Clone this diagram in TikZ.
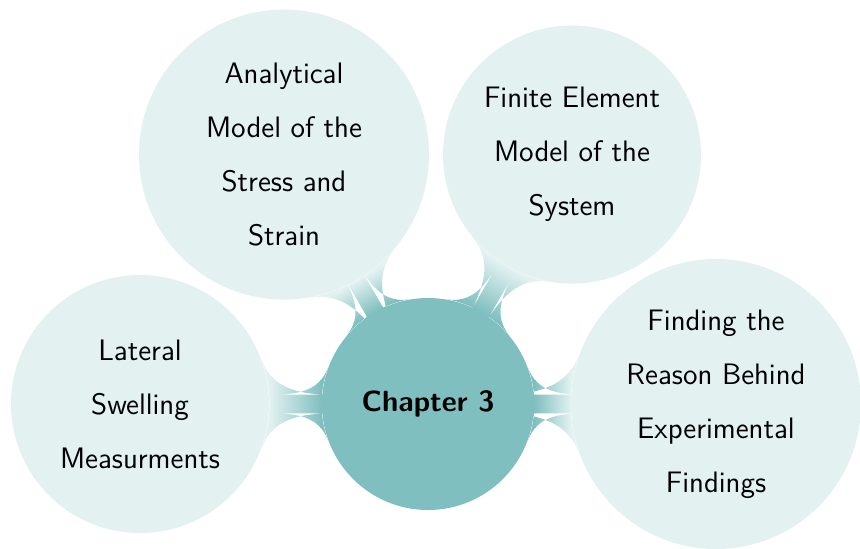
\documentclass[tikz,border=0pt]{standalone}
\usepackage{tikz}
\usetikzlibrary{mindmap}
\definecolor{chapTeal}{HTML}{80BFC0}
\definecolor{chapTealLight}{HTML}{E3F1F1}
\tikzset{
  chapter concept/.style={circle, fill=chapTeal, minimum size=106pt,
    inner sep=0pt, align=center,
    font=\sffamily\bfseries\fontsize{14.6}{17}\selectfont},
  topic concept/.style={circle, fill=chapTealLight, minimum size=129pt,
    inner sep=0pt, align=center,
    font=\sffamily\fontsize{14.8}{27}\selectfont},
  big topic/.style={topic concept, minimum size=145pt},
  topic link/.style={line width=9pt,
    circle connection bar switch color=from (chapTeal) to (chapTealLight)}
}

\begin{document}
\begin{tikzpicture}
  \useasboundingbox (-214pt,-72pt) rectangle (216pt,202pt);
  \node[chapter concept] (chap) at (0,0) {Chapter 3};
  \node[topic concept] (lateral) at (180:144pt)
    {Lateral\\Swelling\\Measurments};
  \node[big topic] (analytic) at (120:144pt)
    {Analytical\\Model of the\\Stress and\\Strain};
  \node[topic concept] (fem) at (60:144pt)
    {Finite Element\\Model of the\\System};
  \node[big topic] (reason) at (0:144pt)
    {Finding the\\Reason Behind\\Experimental\\Findings};
  % shaded bars from the chapter to each topic
  \foreach \topic in {lateral,analytic,fem,reason}
    \path (chap) to[topic link] (\topic);
\end{tikzpicture}
\end{document}
